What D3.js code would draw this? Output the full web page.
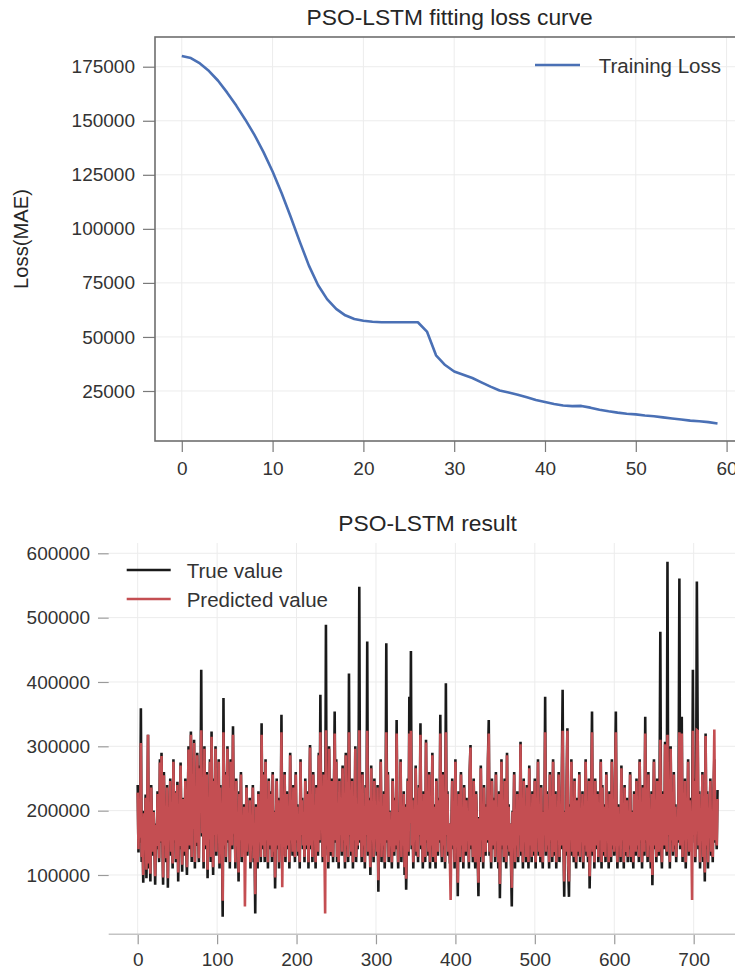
<!DOCTYPE html>
<html lang="en">
<head>
  <meta charset="UTF-8">
  <title>PSO-LSTM</title>
  <script src="https://d3js.org/d3.v7.min.js"></script>
  <style>
    body {
      margin: 0;
      background: #fff;
    }
    svg {
      display: block;
      font-family: "Liberation Sans", Arial, sans-serif;
    }
    .tick text {
      fill: #333;
      font-size: 19px;
    }
    .grid line {
      stroke: #ececec;
      stroke-width: 1;
    }
    .title {
      font-size: 22.8px;
      fill: #262626;
      text-anchor: middle;
    }
    .legend {
      font-size: 20.5px;
      fill: #333;
    }
  </style>
</head>
<body>
  <svg width="735" height="969"></svg>

  <script>
    // training loss per epoch (index = epoch)
    const lossValues = [
      180000, 179000, 176500, 173000, 168500, 163000, 157000, 150500, 143500, 135500,
      126500, 116500, 105500, 94000, 83000, 74000, 67500, 63000, 60000, 58300,
      57500, 57000, 56800, 56800, 56800, 56800, 56800, 52500, 41500, 37000,
      34000, 32500, 31000, 29000, 27000, 25200, 24300, 23300, 22100, 20800,
      19900, 19000, 18300, 18000, 18100, 17300, 16300, 15600, 15000, 14500,
      14200, 13700, 13300, 12800, 12300, 11800, 11300, 11000, 10600, 10000
    ];
    const lossYTicks = [25000, 50000, 75000, 100000, 125000, 150000, 175000];
    const lossXTicks = [0, 10, 20, 30, 40, 50, 60];

    // result series, values in thousands (index = sample)
    const trueK = [
      240,135,220,150,359,120,180,88,200,150,
      225,95,175,318,110,160,90,240,175,130,
      200,150,85,180,140,230,165,120,280,150,
      290,170,85,260,140,200,120,240,80,210,
      155,250,130,190,110,280,150,230,120,175,
      245,90,200,140,275,160,105,220,180,130,
      250,150,100,190,300,140,210,323,120,260,
      170,310,110,230,145,290,180,120,270,200,
      419,160,240,110,300,180,140,260,95,220,
      150,280,120,323,180,100,250,160,300,130,
      210,170,280,110,240,150,190,35,375,140,
      260,120,200,300,150,230,110,280,170,140,
      331,160,220,110,250,140,190,90,230,150,
      260,120,180,140,210,140,160,240,130,170,
      150,220,110,190,140,240,120,170,40,210,
      160,110,230,150,190,120,336,140,260,180,
      120,280,150,200,110,250,170,140,230,120,
      260,130,200,79,170,250,140,220,110,190,
      150,349,130,200,140,260,120,180,230,140,
      200,110,290,150,180,130,240,170,120,260,
      150,210,130,190,110,280,160,220,140,200,
      120,250,170,140,230,110,190,302,140,180,
      120,260,150,200,110,240,170,130,290,150,
      380,170,200,120,260,150,130,489,140,220,
      110,300,160,130,250,180,120,210,354,150,
      280,120,190,110,250,160,220,130,270,150,
      200,110,290,140,180,120,413,160,230,130,
      250,110,200,150,300,120,180,140,230,548,
      150,210,120,260,140,190,110,240,160,463,
      130,220,170,100,270,150,200,120,250,160,
      180,130,240,74,200,150,280,120,190,140,
      230,110,170,460,150,260,120,200,140,180,
      110,250,160,130,220,140,341,170,110,200,
      150,280,120,190,140,230,100,210,77,160,
      250,130,377,180,448,140,220,110,190,150,
      270,130,180,120,240,160,336,140,200,110,
      230,160,120,310,150,200,130,260,110,180,
      140,290,120,210,160,110,250,180,130,220,
      150,349,170,120,260,140,200,110,398,160,
      230,130,180,120,120,170,250,140,200,110,
      280,150,190,67,230,160,120,260,140,200,
      110,240,170,130,220,150,190,110,260,302,
      140,200,120,250,160,110,230,180,140,67,
      190,120,270,150,200,110,240,160,130,210,
      150,280,341,130,190,110,250,170,140,220,
      120,260,150,190,110,230,64,170,280,140,
      200,120,250,160,110,290,140,210,130,180,
      120,51,200,150,260,110,190,140,230,120,
      200,160,307,130,220,110,250,150,180,120,
      240,160,110,270,140,200,120,230,170,130,
      250,110,190,160,280,130,210,120,240,150,
      110,200,160,377,130,230,140,190,110,260,
      150,210,120,280,160,130,230,110,200,150,
      260,120,190,140,250,388,160,66,200,130,
      240,328,110,66,210,160,280,130,190,120,
      250,150,110,220,170,130,260,120,190,150,
      230,110,200,140,280,130,180,120,250,79,
      160,220,354,130,190,110,250,170,140,230,
      120,200,150,280,110,240,160,130,210,120,
      260,150,190,110,230,170,120,280,140,200,
      130,250,354,160,110,210,140,190,120,270,
      150,200,110,240,160,130,220,120,190,140,
      260,120,200,150,110,230,170,130,250,140,
      190,120,280,150,210,110,240,170,130,346,
      150,200,120,260,140,180,110,230,84,170,
      280,140,200,120,250,160,130,220,478,150,
      110,230,170,140,307,200,130,587,160,240,
      110,300,150,190,130,260,140,210,120,180,
      150,230,561,140,270,346,120,200,150,250,
      110,190,160,280,130,220,140,170,150,419,
      160,250,120,200,556,330,140,230,110,190,
      150,260,120,200,90,320,140,230,110,200,
      160,250,130,190,120,230,280,150,200,140,
      232
    ];
    const predK = [
      228,140,212,158,305,128,176,100,196,155,
      220,108,180,318,118,162,102,236,172,136,
      198,152,98,178,145,226,168,126,275,152,
      285,168,96,255,146,198,126,236,95,205,
      158,246,136,188,118,276,154,228,125,176,
      240,104,196,145,270,162,116,218,178,136,
      246,154,112,188,295,146,208,318,128,256,
      172,305,120,226,150,286,178,126,266,198,
      325,165,236,120,296,178,146,256,108,216,
      155,276,128,315,178,112,246,162,296,136,
      206,172,276,118,236,154,188,60,322,146,
      256,128,198,296,154,226,120,276,170,146,
      318,164,216,120,246,146,188,104,226,154,
      256,128,178,146,206,51,162,236,136,170,
      154,216,120,188,146,236,126,170,70,206,
      162,120,226,154,188,128,318,146,256,178,
      128,276,154,198,120,246,170,146,226,128,
      256,136,198,96,170,246,146,216,120,188,
      154,322,81,198,146,256,128,180,226,146,
      198,120,286,154,180,136,236,170,128,256,
      154,206,136,188,120,276,162,216,146,198,
      128,246,170,146,226,120,188,298,146,180,
      128,256,154,198,120,236,170,136,286,154,
      322,172,198,128,256,154,40,325,146,216,
      120,296,162,136,246,178,128,208,320,154,
      276,128,188,120,246,162,216,136,266,154,
      198,120,286,146,180,128,322,162,226,136,
      246,120,198,154,296,128,180,146,226,325,
      154,206,128,256,146,188,120,236,162,324,
      136,216,170,112,266,154,198,128,246,162,
      180,136,236,92,198,154,276,128,188,146,
      226,120,170,322,154,256,128,198,146,180,
      120,246,162,136,216,146,320,170,120,198,
      154,276,128,188,146,226,112,206,94,162,
      246,136,320,180,324,146,216,120,188,154,
      266,136,180,128,236,162,318,146,198,120,
      226,162,128,306,154,198,136,256,120,180,
      146,286,128,206,162,120,246,180,136,216,
      154,320,170,128,256,146,198,120,322,162,
      226,136,180,128,61,170,246,146,198,120,
      276,154,188,88,226,162,128,256,146,198,
      120,236,170,136,216,154,188,120,256,298,
      146,198,128,246,162,120,226,180,146,88,
      188,128,266,154,198,120,236,162,136,206,
      154,276,320,136,188,120,246,170,146,216,
      128,256,154,188,120,226,86,170,276,146,
      198,128,246,162,120,286,146,206,136,180,
      128,80,198,154,256,120,188,146,226,128,
      198,162,303,136,216,120,246,154,180,128,
      236,162,120,266,146,198,128,226,170,136,
      246,120,188,162,276,136,206,128,236,154,
      120,198,162,322,136,226,146,188,120,256,
      154,206,128,276,162,136,226,120,198,154,
      256,128,188,146,246,324,162,90,198,136,
      236,324,120,90,206,162,276,136,188,128,
      246,154,120,216,170,136,256,128,188,154,
      226,120,198,146,276,136,180,128,246,98,
      162,216,322,136,188,120,246,170,146,226,
      128,198,154,276,120,236,162,136,206,128,
      256,154,188,120,226,170,128,276,146,198,
      136,246,322,162,120,206,146,188,128,266,
      154,198,120,236,162,136,216,128,188,146,
      256,128,198,154,120,226,170,136,246,146,
      188,128,276,154,206,120,236,170,136,320,
      154,198,128,256,146,180,120,226,100,170,
      276,146,198,128,246,162,136,216,310,154,
      120,226,170,146,303,198,136,318,162,236,
      120,296,154,188,136,256,146,206,128,180,
      154,226,322,146,266,320,128,198,154,246,
      120,188,162,276,136,216,146,170,61,324,
      162,246,128,198,325,324,146,226,120,188,
      154,256,128,198,104,316,146,226,120,198,
      162,246,136,188,128,226,326,154,198,146,
      218
    ];
    const UNIT = 1000;
    const resultYTicks = [100000, 200000, 300000, 400000, 500000, 600000];
    const resultXTicks = [0, 100, 200, 300, 400, 500, 600, 700];

    const svg = d3.select("svg");
    svg.append("rect").attr("width", 735).attr("height", 969).attr("fill", "#fff");

    // ---------- oberes Diagramm: Loss ----------
    const p1 = { left: 155, right: 744.3, top: 37, bottom: 441 };
    const x1 = d3.scaleLinear().domain([-2.95, 61.95]).range([p1.left, p1.right]);
    const y1 = d3.scaleLinear().domain([1870, 188740]).range([p1.bottom, p1.top]);

    const g1 = svg.append("g");
    const grid1 = g1.append("g").attr("class", "grid");
    grid1.selectAll(".gx").data(lossXTicks).join("line")
      .attr("x1", d => x1(d)).attr("x2", d => x1(d))
      .attr("y1", p1.top).attr("y2", p1.bottom);
    grid1.selectAll(".gy").data(lossYTicks).join("line")
      .attr("x1", p1.left).attr("x2", p1.right)
      .attr("y1", d => y1(d)).attr("y2", d => y1(d));

    g1.append("g")
      .attr("transform", `translate(${p1.left},0)`)
      .call(d3.axisLeft(y1).tickValues(lossYTicks).tickFormat(d3.format("d")).tickSize(12).tickPadding(8))
      .call(a => a.select(".domain").remove())
      .call(a => a.selectAll(".tick line").attr("stroke", "#7a7a7a").attr("stroke-width", 1.2));

    g1.append("g")
      .attr("transform", `translate(0,${p1.bottom})`)
      .call(d3.axisBottom(x1).tickValues(lossXTicks).tickFormat(d3.format("d")).tickSize(11).tickPadding(9.5))
      .call(a => a.select(".domain").remove())
      .call(a => a.selectAll(".tick line").attr("stroke", "#7a7a7a").attr("stroke-width", 1.2));

    // Rahmen
    g1.append("rect")
      .attr("x", p1.left).attr("y", p1.top)
      .attr("width", p1.right - p1.left).attr("height", p1.bottom - p1.top)
      .attr("fill", "none").attr("stroke", "#6e6e6e").attr("stroke-width", 1.6);

    const lossLine = d3.line().x((d, i) => x1(i)).y(d => y1(d));
    g1.append("path")
      .datum(lossValues)
      .attr("fill", "none")
      .attr("stroke", "#4a70b5")
      .attr("stroke-width", 2.6)
      .attr("stroke-linejoin", "round")
      .attr("d", lossLine);

    svg.append("text").attr("class", "title")
      .attr("x", (p1.left + p1.right) / 2).attr("y", 25)
      .text("PSO-LSTM fitting loss curve");

    svg.append("text")
      .attr("transform", `translate(28,${(p1.top + p1.bottom) / 2}) rotate(-90)`)
      .attr("text-anchor", "middle")
      .attr("font-size", "20.2px")
      .attr("fill", "#262626")
      .text("Loss(MAE)");

    // Legende oben
    svg.append("line")
      .attr("x1", 535).attr("x2", 580).attr("y1", 65).attr("y2", 65)
      .attr("stroke", "#4a70b5").attr("stroke-width", 2.6);
    svg.append("text").attr("class", "legend")
      .attr("x", 598.7).attr("y", 72.5).text("Training Loss");

    // ---------- unteres Diagramm: Ergebnis ----------
    const p2 = { left: 108.7, right: 746.5, top: 543, bottom: 934.3 };
    const x2 = d3.scaleLinear().domain([-36.5, 766.5]).range([p2.left, p2.right]);
    const y2 = d3.scaleLinear().domain([7800, 616000]).range([p2.bottom, p2.top]);

    const g2 = svg.append("g");
    const grid2 = g2.append("g").attr("class", "grid");
    grid2.selectAll(".gx").data(resultXTicks).join("line")
      .attr("x1", d => x2(d)).attr("x2", d => x2(d))
      .attr("y1", p2.top).attr("y2", p2.bottom);
    grid2.selectAll(".gy").data(resultYTicks).join("line")
      .attr("x1", p2.left).attr("x2", p2.right)
      .attr("y1", d => y2(d)).attr("y2", d => y2(d));

    g2.append("g")
      .attr("transform", `translate(${p2.left},0)`)
      .call(d3.axisLeft(y2).tickValues(resultYTicks).tickFormat(d3.format("d")).tickSize(10.7).tickPadding(8))
      .call(a => a.select(".domain").remove())
      .call(a => a.selectAll(".tick line").attr("stroke", "#9a9a9a").attr("stroke-width", 1.2));

    g2.append("g")
      .attr("transform", `translate(0,${p2.bottom})`)
      .call(d3.axisBottom(x2).tickValues(resultXTicks).tickFormat(d3.format("d")).tickSize(10).tickPadding(8))
      .call(a => a.select(".domain").remove())
      .call(a => a.selectAll(".tick line").attr("stroke", "#9a9a9a").attr("stroke-width", 1.2));

    g2.append("line")
      .attr("x1", p2.left).attr("x2", p2.right)
      .attr("y1", p2.bottom).attr("y2", p2.bottom)
      .attr("stroke", "#c4c4c4").attr("stroke-width", 1.6);

    const resLine = d3.line().x((d, i) => x2(i)).y(d => y2(d * UNIT));
    g2.append("path")
      .datum(trueK)
      .attr("fill", "none")
      .attr("stroke", "#1a1a1a")
      .attr("stroke-width", 2.6)
      .attr("d", resLine);
    g2.append("path")
      .datum(predK)
      .attr("fill", "none")
      .attr("stroke", "#c44e52")
      .attr("stroke-width", 2.6)
      .attr("d", resLine);

    svg.append("text").attr("class", "title")
      .attr("x", (p2.left + p2.right) / 2).attr("y", 531)
      .text("PSO-LSTM result");

    // Legende unten
    const legend2 = [
      { label: "True value", color: "#1a1a1a", y: 570 },
      { label: "Predicted value", color: "#c44e52", y: 599 }
    ];
    svg.selectAll(".leg2line").data(legend2).join("line")
      .attr("x1", 126.7).attr("x2", 170.7)
      .attr("y1", d => d.y).attr("y2", d => d.y)
      .attr("stroke", d => d.color).attr("stroke-width", 2.6);
    svg.selectAll(".leg2text").data(legend2).join("text")
      .attr("class", "legend")
      .attr("x", 186.7).attr("y", d => d.y + 7.5)
      .text(d => d.label);
  </script>
</body>
</html>
